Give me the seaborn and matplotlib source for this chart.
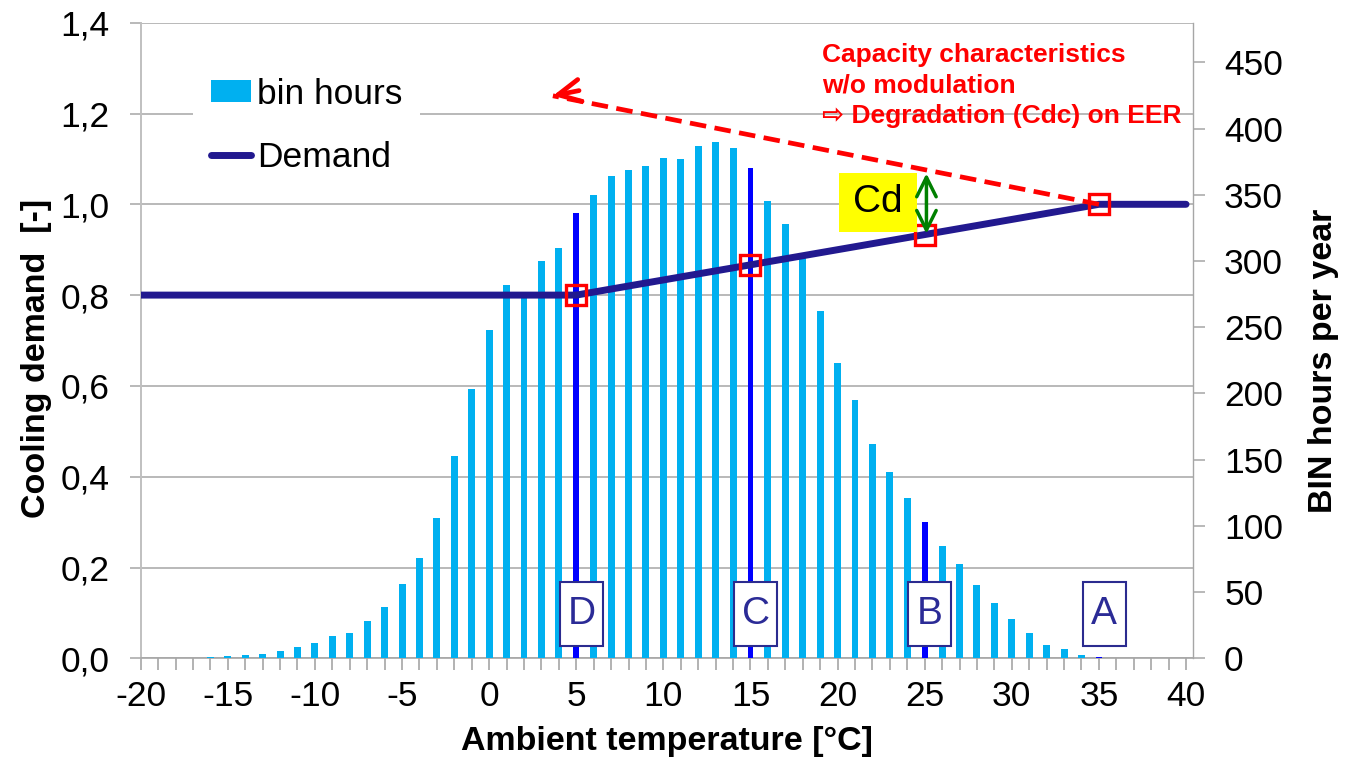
import numpy as np
import pandas as pd
import matplotlib
matplotlib.use("Agg")
import matplotlib.pyplot as plt
import seaborn as sns
from matplotlib.patches import Rectangle, Patch
from matplotlib.lines import Line2D
from matplotlib.ticker import FuncFormatter, MultipleLocator

# ---------------- data ----------------
temps = list(range(-20, 41))
bin_hours = [0, 0, 0, 0, 1, 2, 2.5, 3.3, 5.5, 8.3,
             11.3, 17, 19.3, 28, 39, 56, 76, 106, 153, 203,
             248, 282, 276, 300, 310, 336, 350, 364, 369, 372,
             378, 377, 387, 390, 385, 370, 345, 328, 302, 262,
             223, 195, 162, 141, 121, 103, 85, 71, 55, 42,
             30, 19, 10, 7, 2.5, 1, 0.5, 0, 0, 0, 0]
highlight_t = [5, 15, 25, 35]
highlight_lbl = ["D", "C", "B", "A"]

demand_t = [-20, 5, 15, 25, 35, 40]
demand_v = [0.8, 0.8, 0.8667, 0.9333, 1.0, 1.0]

point_t = [5, 15, 25, 35]
point_v = [0.8, 0.8667, 0.9333, 1.0]

left_ticks = [0.0, 0.2, 0.4, 0.6, 0.8, 1.0, 1.2, 1.4]
right_ticks = [0, 50, 100, 150, 200, 250, 300, 350, 400, 450]
x_major = [-20, -15, -10, -5, 0, 5, 10, 15, 20, 25, 30, 35, 40]

assert len(temps) == len(bin_hours)

# ---------------- style ----------------
sns.set_style("white")
FONT = ["Liberation Sans", "DejaVu Sans"]
plt.rcParams["font.family"] = FONT
plt.rcParams["text.color"] = "black"
plt.rcParams["axes.labelcolor"] = "black"

LIGHT = "#00B0F0"
DARK = "#0000FF"
NAVY = "#22198F"
GRID = "#A6A6A6"

W, H = 1348, 759
L, R, B, T = 140.7, 1193, 658.3, 22.7
fig = plt.figure(figsize=(W / 100, H / 100), dpi=100)
ax = fig.add_axes([L / W, 1 - B / H, (R - L) / W, (B - T) / H])
ax2 = ax.twinx()
ax3 = ax.twinx()

# ---------------- bars (right axis) ----------------
df = pd.DataFrame({"temp": temps, "hours": bin_hours})
hl = df["temp"].isin(highlight_t)
sns.barplot(data=df[~hl], x="temp", y="hours", native_scale=True, width=0.4,
            color=LIGHT, saturation=1, errorbar=None, ax=ax2,
            linewidth=0, edgecolor="none")
sns.barplot(data=df[hl], x="temp", y="hours", native_scale=True, width=0.033,
            color=DARK, saturation=1, errorbar=None, ax=ax2,
            linewidth=0, edgecolor="none")

# ---------------- demand line (top layer) ----------------
sns.lineplot(x=demand_t, y=demand_v, ax=ax3, color=NAVY, linewidth=5,
             solid_capstyle="round", zorder=3)
ax3.plot(point_t, point_v, "s", ms=15, mfc="none", mec="red", mew=2.4,
         zorder=4)

# ---------------- axes formatting ----------------
ax.set_xlim(-20, 40.4)
ax.set_ylim(0, 1.4)
ax2.set_ylim(0, 480)
ax3.set_ylim(0, 1.4)

ax.set_yticks(left_ticks)
ax.yaxis.set_major_formatter(FuncFormatter(lambda v, p: f"{v:.1f}".replace(".", ",")))
ax.set_xticks(x_major)
ax.xaxis.set_minor_locator(MultipleLocator(1))
ax.xaxis.set_major_formatter(FuncFormatter(lambda v, p: f"{int(round(v))}"))
ax.grid(axis="y", color=GRID, linewidth=1.1)
ax.grid(axis="x", visible=False)
ax.set_axisbelow(True)

ax.tick_params(axis="x", which="both", direction="out", length=8.4, width=1.2,
               color=GRID, labelcolor="black", labelsize=25.5, pad=7, bottom=True)
ax.tick_params(axis="y", direction="out", length=7.7, width=1.1, color=GRID,
               labelcolor="black", labelsize=25.5, pad=15, left=True)
ax2.set_yticks(right_ticks)
ax2.tick_params(axis="y", direction="out", length=8.4, width=1.1, color=GRID,
                labelcolor="black", labelsize=25.5, pad=14, right=True)

for sp in ["top", "right"]:
    ax.spines[sp].set_visible(False)
ax.spines["left"].set_color("#C0C0C0")
ax.spines["left"].set_linewidth(1.4)
ax.spines["bottom"].set_color(GRID)
ax.spines["bottom"].set_linewidth(1.2)
for sp in ["top", "left", "bottom"]:
    ax2.spines[sp].set_visible(False)
ax2.spines["right"].set_color(GRID)
ax2.spines["right"].set_linewidth(1.0)
for sp in ax3.spines.values():
    sp.set_visible(False)
ax3.yaxis.set_visible(False)

ax.set_xlabel("Ambient temperature [°C]", fontsize=24.5, fontweight="bold",
              color="black")
ax.xaxis.set_label_coords(0.5, -0.106)
ax.set_ylabel("Cooling demand  [-]", fontsize=24.5, fontweight="bold",
              color="black")
ax.yaxis.set_label_coords(-0.0843, 0.471)
ax2.set_ylabel("BIN hours per year", fontsize=24.5, fontweight="bold",
               color="black")
ax2.yaxis.set_label_coords(1.1095, 0.468)
ax3.set_xlabel("")
ax3.set_ylabel("")

# ---------------- annotations ----------------
# letter boxes
for t, lbl in zip(highlight_t, highlight_lbl):
    cx = t + 0.3
    ax3.add_patch(Rectangle((cx - 1.235, 0.028), 2.47, 0.139, facecolor="white",
                            edgecolor="#2B2B8F", linewidth=1.5, zorder=5))
    ax3.text(cx, 0.0975, lbl, ha="center", va="center", fontsize=28,
             color="#2B2B96", zorder=6)

# Cd box
ax3.add_patch(Rectangle((20.08, 0.938), 4.48, 0.132, facecolor="#FFFF00",
                        edgecolor="none", zorder=5))
ax3.text(22.32, 1.004, "Cd", ha="center", va="center", fontsize=28,
         color="black", zorder=6)

# green double arrow
ax3.annotate("", xy=(25.1, 1.068), xytext=(25.1, 0.935),
             arrowprops=dict(arrowstyle="<->,head_length=0.7,head_width=0.35",
                             color="#008000", lw=2.5, mutation_scale=20,
                             shrinkA=0, shrinkB=0), zorder=7)

# red dashed arrow
tip = (3.66, 1.239)
start = (35.0, 1.0)
ax3.plot([start[0], tip[0]], [start[1], tip[1]], color="red", lw=3.4,
         dashes=[3.5, 1.8], zorder=4)
ax3.annotate("", xy=tip, xytext=(tip[0] + 1.5, tip[1] - 1.5 * (tip[1] - start[1]) / (tip[0] - start[0])),
             arrowprops=dict(arrowstyle="->,head_length=0.8,head_width=0.4",
                             color="red", lw=3.4, mutation_scale=20,
                             shrinkA=0, shrinkB=0), zorder=5)

fig.text(822 / W, 1 - 43 / H,
         "Capacity characteristics\nw/o modulation\n\u21e8 Degradation (Cdc) on EER",
         color="red", fontweight="bold", fontsize=19, va="top", ha="left",
         linespacing=1.33, family=FONT)

# legend
handles = [Patch(facecolor=LIGHT, edgecolor="none"),
           Line2D([0], [0], color=NAVY, lw=5, solid_capstyle="round")]
leg = ax3.legend(handles, ["bin hours", "Demand"], loc="upper left",
                 bbox_to_anchor=(193 / W, 1 - 60 / H),
                 bbox_transform=fig.transFigure, frameon=True, fancybox=False,
                 framealpha=1, facecolor="white", edgecolor="none",
                 fontsize=25.5, handlelength=1.13, handleheight=0.6,
                 handletextpad=0.17, labelspacing=0.86, borderpad=0.5,
                 borderaxespad=0)
for txt in leg.get_texts():
    txt.set_color("black")
leg.set_zorder(10)

fig.savefig("out.png", dpi=100)
